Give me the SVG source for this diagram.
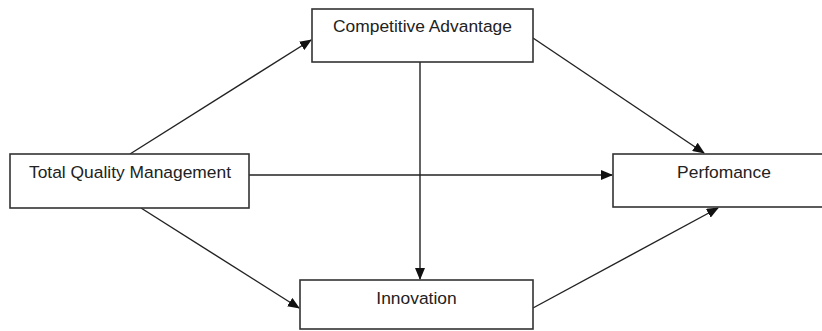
<svg xmlns="http://www.w3.org/2000/svg" width="822" height="331" viewBox="0 0 822 331">
<style>
.box{fill:#fff;stroke:#333;stroke-width:1.6}
.lbl{font-family:"Liberation Sans",Arial,sans-serif;font-size:17.4px;fill:#222;text-anchor:middle}
.edge{stroke:#222;stroke-width:1.4;fill:none;marker-end:url(#ah)}
</style>
<defs>
<marker id="ah" markerWidth="12" markerHeight="10" refX="11" refY="5" orient="auto" markerUnits="userSpaceOnUse">
<path d="M0,0 L12,5 L0,10 Z" fill="#111"/>
</marker>
</defs>
<rect width="822" height="331" fill="#fff"/>
<g id="connectors">
<line class="edge" x1="130" y1="154" x2="311" y2="40"/>
<line class="edge" x1="533" y1="38" x2="704" y2="153"/>
<line class="edge" x1="249" y1="175" x2="612" y2="175"/>
<line class="edge" x1="420" y1="62" x2="420" y2="279"/>
<line class="edge" x1="141" y1="208" x2="299" y2="308"/>
<line class="edge" x1="533" y1="308" x2="718" y2="208"/>
</g>
<g id="tqm">
<rect class="box" x="10" y="154" width="239" height="54"/>
<text class="lbl" x="130" y="178">Total Quality Management</text>
</g>
<g id="ca">
<rect class="box" x="312" y="9" width="221" height="53"/>
<text class="lbl" x="422.5" y="32">Competitive Advantage</text>
</g>
<g id="innovation">
<rect class="box" x="300" y="280" width="233" height="49"/>
<text class="lbl" x="416.5" y="304">Innovation</text>
</g>
<g id="performance">
<rect class="box" x="613" y="154" width="222" height="53"/>
<text class="lbl" x="724" y="178">Perfomance</text>
</g>
</svg>
